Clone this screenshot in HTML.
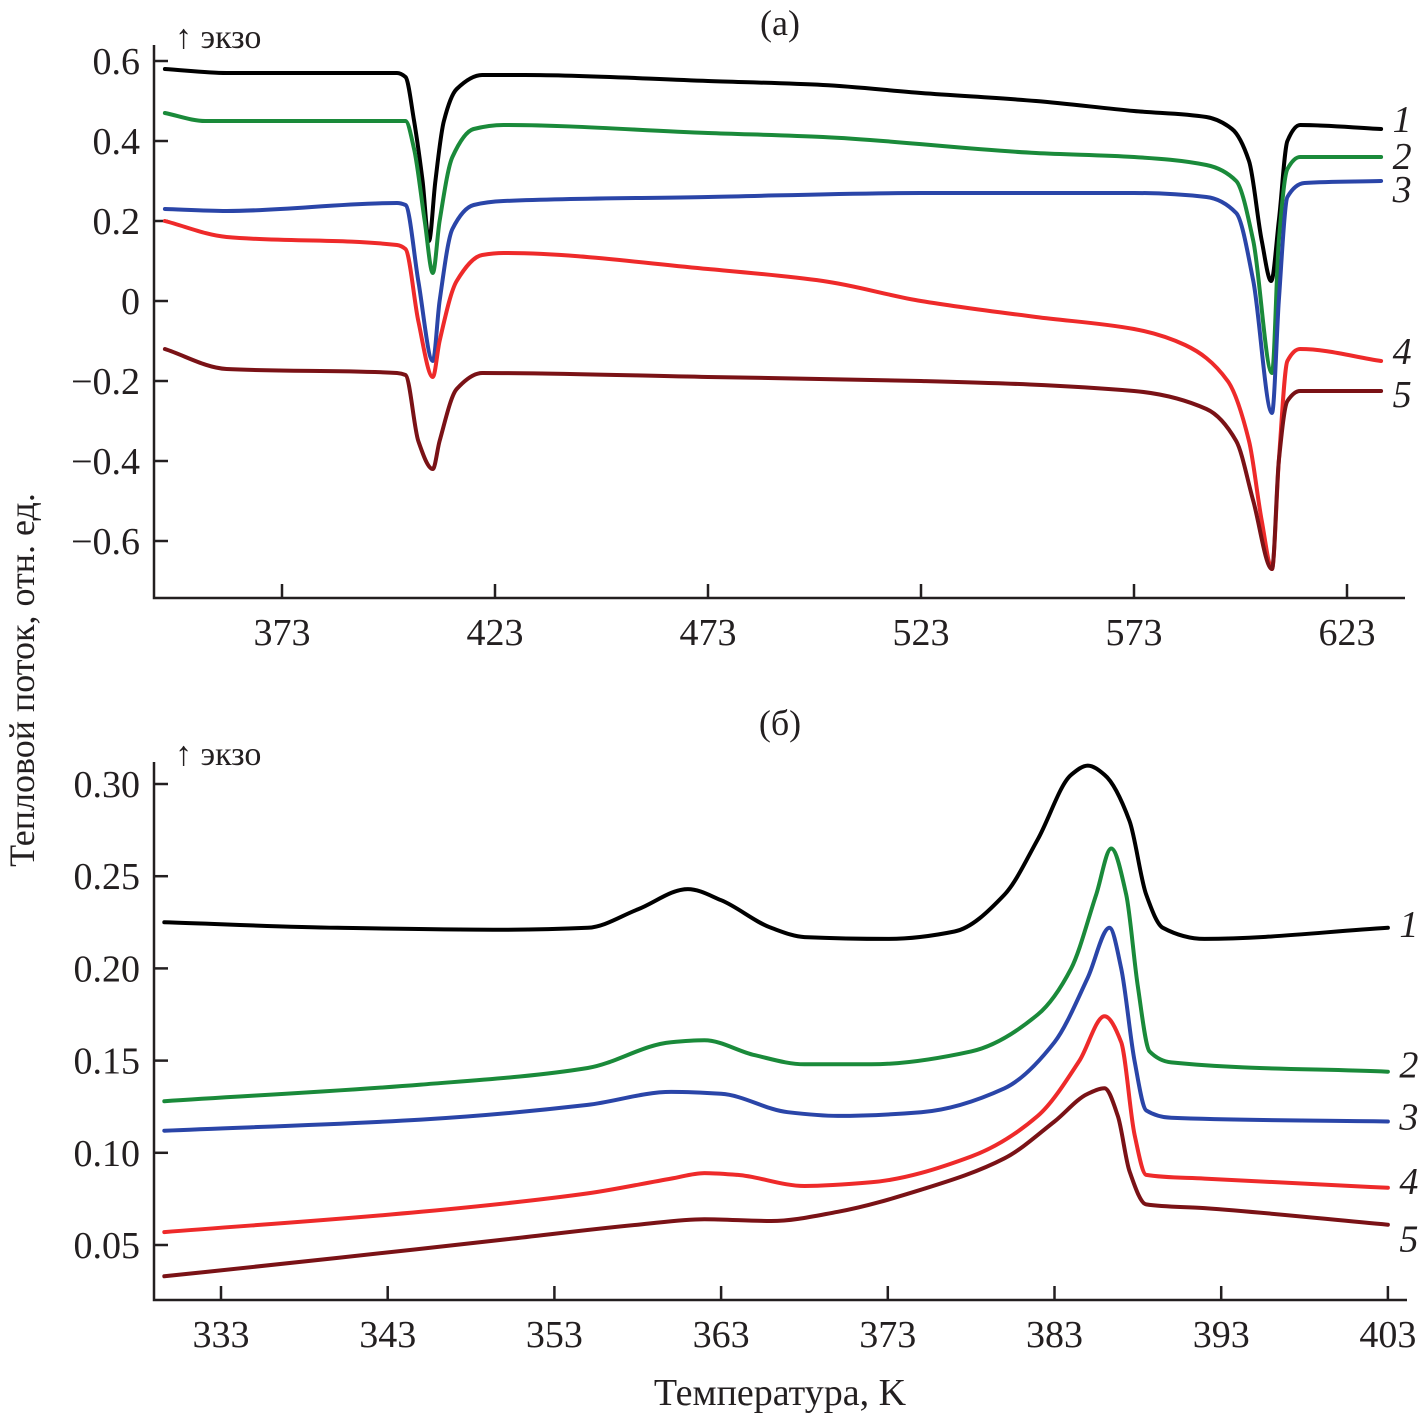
<!DOCTYPE html>
<html><head><meta charset="utf-8"><style>
body{margin:0;background:#fff}
svg text{font-family:"Liberation Serif","DejaVu Serif",serif;fill:#231f20}
</style></head><body>
<svg width="1419" height="1419" viewBox="0 0 1419 1419" xmlns="http://www.w3.org/2000/svg" font-family="Liberation Serif, DejaVu Serif, serif">
<g id="top"></g>
<g id="bot"></g>
<text x="780" y="35" font-size="36" text-anchor="middle">(а)</text>
<text x="780" y="735" font-size="36" text-anchor="middle">(б)</text>
<text x="175" y="48" font-size="34">↑ экзо</text>
<text x="175" y="765" font-size="34">↑ экзо</text>
<text transform="translate(34,680) rotate(-90)" font-size="36" text-anchor="middle">Тепловой поток, отн. ед.</text>
<text x="780" y="1405" font-size="38" text-anchor="middle">Температура, K</text>
</svg>
<script>
const NS="http://www.w3.org/2000/svg";
const colors=["#000000","#1a8a3a","#2a45a8","#ee2a2a","#7a1216"];
const labels=["1","2","3","4","5"];
// Panel (a)
const aTicksX=[373,423,473,523,573,623];
const aTicksY=[0.6,0.4,0.2,0,-0.2,-0.4,-0.6];
const aTickLabelsY=["0.6","0.4","0.2","0","\u22120.2","\u22120.4","\u22120.6"];
const aT1=[345.5,360,400,402,404,406,407.5,409,411,414,420,430,473,500,523,550,573,590,596,600,603,605.2,607,609,612,631];
const aV1=[0.58,0.57,0.57,0.56,0.45,0.3,0.15,0.3,0.45,0.53,0.565,0.565,0.55,0.54,0.52,0.5,0.475,0.46,0.43,0.35,0.15,0.05,0.2,0.4,0.44,0.43];
const aT2=[345.5,355,402,404,406.5,408.4,410,413,418,425,473,500,550,573,590,597,601,605.4,607,609,612,631];
const aV2=[0.47,0.45,0.45,0.38,0.2,0.07,0.2,0.36,0.43,0.44,0.42,0.41,0.37,0.36,0.34,0.3,0.15,-0.18,0.15,0.33,0.36,0.36];
const aT3=[345.5,360,400,402,405,408.4,410,413,418,425,473,523,573,590,597,601,605.4,607,609,613,631];
const aV3=[0.23,0.225,0.245,0.24,0.05,-0.15,0,0.18,0.24,0.25,0.26,0.27,0.27,0.26,0.22,0.05,-0.28,0,0.26,0.295,0.3];
const aT4=[345.5,360,400,402,405,408.4,410,414,420,425,473,500,523,550,573,585,595,600,603,605.4,607,609,612,631];
const aV4=[0.2,0.16,0.14,0.13,-0.05,-0.19,-0.1,0.05,0.115,0.12,0.08,0.05,0,-0.04,-0.07,-0.11,-0.2,-0.35,-0.55,-0.67,-0.4,-0.15,-0.12,-0.15];
const aT5=[345.5,360,400,402,405,408.4,410,414,420,473,523,573,590,597,601,605.4,607,609,612,631];
const aV5=[-0.12,-0.17,-0.18,-0.185,-0.35,-0.42,-0.35,-0.22,-0.18,-0.19,-0.2,-0.225,-0.27,-0.35,-0.5,-0.67,-0.4,-0.25,-0.225,-0.225];
// Panel (b)
const bTicksX=[333,343,353,363,373,383,393,403];
const bTicksY=[0.30,0.25,0.20,0.15,0.10,0.05];
const bTickLabelsY=["0.30","0.25","0.20","0.15","0.10","0.05"];
const bT1=[329.6,340,350,355,358,361,363,366,368,373,377,380,382,384,385,386,387.5,388.5,389.5,392,403];
const bV1=[0.225,0.222,0.221,0.222,0.232,0.243,0.237,0.222,0.217,0.216,0.22,0.24,0.27,0.305,0.31,0.305,0.28,0.24,0.222,0.216,0.222];
const bT2=[329.6,345,355,360,362,365,368,372,378,382,384,385.5,386.4,387.3,388,388.7,390,403];
const bV2=[0.128,0.137,0.146,0.16,0.161,0.153,0.148,0.148,0.155,0.175,0.2,0.24,0.265,0.24,0.19,0.155,0.149,0.144];
const bT3=[329.6,345,355,360,363,367,370,375,380,383,385,386.3,387,387.8,388.5,390,403];
const bV3=[0.112,0.118,0.126,0.133,0.132,0.122,0.12,0.122,0.135,0.16,0.195,0.222,0.2,0.15,0.123,0.119,0.117];
const bT4=[329.6,345,355,360,362,364,368,372,378,382,384.5,386,387,387.8,388.5,392,403];
const bV4=[0.057,0.068,0.078,0.086,0.089,0.088,0.082,0.084,0.098,0.12,0.15,0.174,0.16,0.11,0.088,0.086,0.081];
const bT5=[329.6,340,350,358,362,366,370,375,380,383,385,386,386.8,387.5,388.5,392,403];
const bV5=[0.033,0.043,0.053,0.061,0.064,0.063,0.068,0.08,0.097,0.117,0.132,0.135,0.12,0.09,0.072,0.07,0.061];

const axX_a=T=>282+(T-373)*4.26;
const axY_a=v=>301-v*400;
const axX_b=T=>221+(T-333)*16.67;
const axY_b=v=>784-(v-0.30)*1844;

function mk(tag,attrs,parent){const e=document.createElementNS(NS,tag);for(const k in attrs)e.setAttribute(k,attrs[k]);parent.appendChild(e);return e;}

function monotonePath(pts){
  const n=pts.length,dx=[],s=[],m=[];
  for(let i=0;i<n-1;i++){dx[i]=pts[i+1][0]-pts[i][0];s[i]=(pts[i+1][1]-pts[i][1])/dx[i];}
  m[0]=s[0];m[n-1]=s[n-2];
  for(let i=1;i<n-1;i++){
    if(s[i-1]*s[i]<=0)m[i]=0;
    else{const w1=2*dx[i]+dx[i-1],w2=dx[i]+2*dx[i-1];m[i]=(w1+w2)/(w1/s[i-1]+w2/s[i]);}
  }
  let d='M'+pts[0][0].toFixed(1)+','+pts[0][1].toFixed(1);
  for(let i=0;i<n-1;i++){
    const h=dx[i]/3;
    d+=`C${(pts[i][0]+h).toFixed(1)},${(pts[i][1]+m[i]*h).toFixed(1)} ${(pts[i+1][0]-h).toFixed(1)},${(pts[i+1][1]-m[i+1]*h).toFixed(1)} ${pts[i+1][0].toFixed(1)},${pts[i+1][1].toFixed(1)}`;
  }
  return d;
}

function panel(g,cfg){
  const ax=mk('path',{d:`M${cfg.left},${cfg.top}V${cfg.bottom}H${cfg.right}`,fill:'none',stroke:'#231f20','stroke-width':2.5},g);
  
  
  cfg.tx.forEach(t=>{
    const x=cfg.fx(t);
    const l=mk('line',{x1:x,x2:x,y1:cfg.bottom,y2:cfg.bottom-14,stroke:'#231f20','stroke-width':2.5},g);
    
    
    const tx=mk('text',{x:x,y:cfg.bottom+47,'font-size':38,'text-anchor':'middle'},g);
    tx.textContent=String(t);
    
    
  });
  cfg.ty.forEach((v,i)=>{
    const y=cfg.fy(v);
    const l=mk('line',{x1:cfg.left,x2:cfg.left+14,y1:y,y2:y,stroke:'#231f20','stroke-width':2.5},g);
    
    
    const tx=mk('text',{x:cfg.left-14,y:y+13,'font-size':38,'text-anchor':'end'},g);
    tx.textContent=cfg.tyl[i];
    
    
  });
  cfg.series.forEach((s,i)=>{
    const pts=s[0].map((t,j)=>[cfg.fx(t),cfg.fy(s[1][j])]);
    const p=mk('path',{d:monotonePath(pts),fill:'none',stroke:colors[i],'stroke-width':4,'stroke-linejoin':'round','stroke-linecap':'round'},g);
    
    
    const last=pts[pts.length-1];
    const lt=mk('text',{x:last[0]+21,y:last[1]+cfg.lo[i]+12,'font-size':38,'font-style':'italic','text-anchor':'middle'},g);
    lt.textContent=labels[i];
    
    
  });
}
panel(document.getElementById('top'),{left:154,top:45,bottom:598,right:1405,fx:axX_a,fy:axY_a,tx:aTicksX,ty:aTicksY,tyl:aTickLabelsY,
  series:[[aT1,aV1],[aT2,aV2],[aT3,aV3],[aT4,aV4],[aT5,aV5]],lo:[-9,0,9,-9,4]});
panel(document.getElementById('bot'),{left:154,top:762,bottom:1300,right:1407,fx:axX_b,fy:axY_b,tx:bTicksX,ty:bTicksY,tyl:bTickLabelsY,
  series:[[bT1,bV1],[bT2,bV2],[bT3,bV3],[bT4,bV4],[bT5,bV5]],lo:[-3,-6,-4,-6,15]});
</script>
</body></html>
